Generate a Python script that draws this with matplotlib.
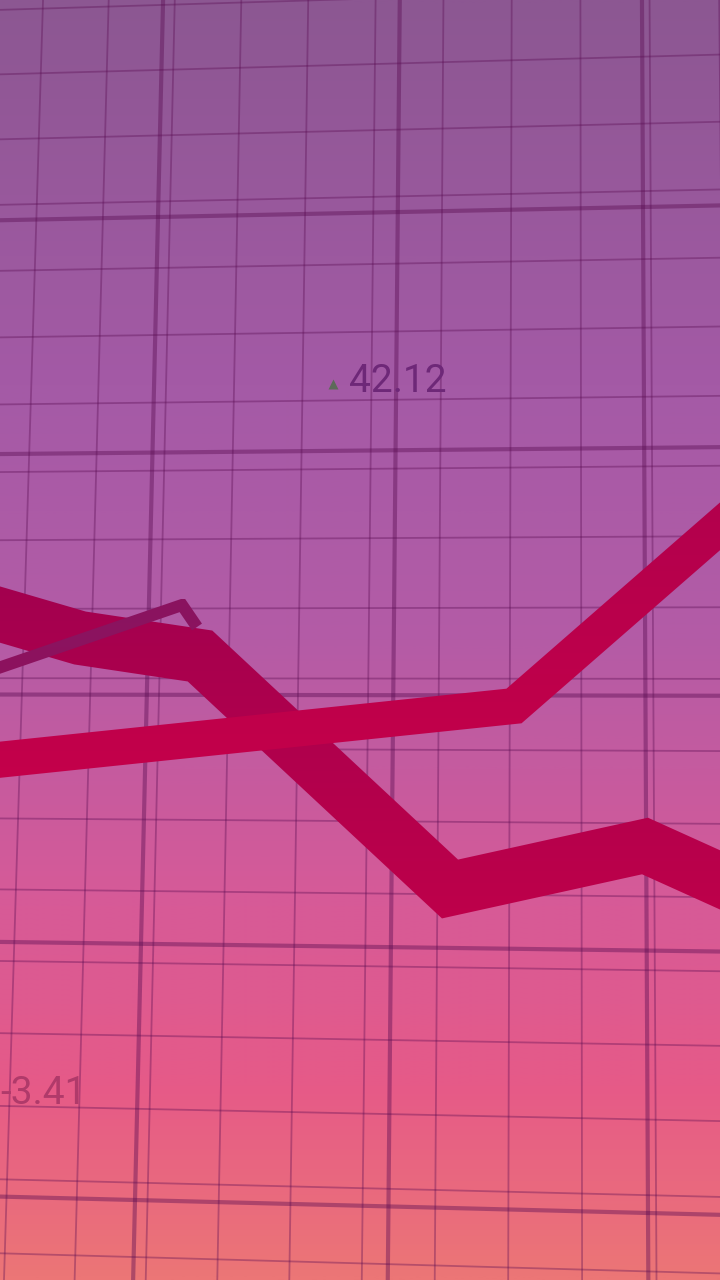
import matplotlib.pyplot as plt
import numpy as np
from matplotlib.colors import LinearSegmentedColormap
from matplotlib.patches import Polygon

# ribbon series (x in px across the frame, y in px down the frame)
thick_x = [-60, 80, 200, 450, 645, 780]
thick_y = [597, 638, 656, 889, 846, 907]

mid_x = [-60, 514, 780]
mid_y = [766, 706, 474]

thin_x = [-60, 182, 197]
thin_y = [688, 605, 627]

# floating value labels
labels = ['42.12', '-3.41']
label_pos = [(349, 382), (0, 1094)]

# background colour stops, top -> bottom
bg_stops = ['#8c5792', '#a45aa6', '#b45ca6', '#d65a98', '#e65a88', '#ec7676']
bg_pos = [0.0, 0.3, 0.5, 0.7, 0.85, 1.0]

fig = plt.figure(figsize=(7.2, 12.8), dpi=100)
ax = fig.add_axes([0, 0, 1, 1])
ax.axis('off')

# gradient background
cmap = LinearSegmentedColormap.from_list('bg', list(zip(bg_pos, bg_stops)))
grad = np.linspace(0, 1, 512).reshape(-1, 1)
ax.imshow(grad, cmap=cmap, aspect='auto', extent=(0, 720, 1280, 0), zorder=0)


# the grid sits on a slightly tilted plane: map grid units -> pixels
def solve_h(src, dst):
    A, b = [], []
    for (u, v), (x, y) in zip(src, dst):
        A.append([u, v, 1, 0, 0, 0, -u * x, -v * x])
        b.append(x)
        A.append([0, 0, 0, u, v, 1, -u * y, -v * y])
        b.append(y)
    h = np.linalg.solve(np.array(A, float), np.array(b, float))
    return np.append(h, 1).reshape(3, 3)


H = solve_h([(0, 0), (2, 0), (0, 4), (2, 4)],
            [(158, 217), (643, 207), (135, 1200), (648, 1213)])


def warp(u, v):
    p = H @ np.vstack([u, v, np.ones_like(u)])
    return p[0] / p[2], p[1] / p[2]


grid_col = '#5a0c52'
span = np.array([-2.0, 6.0])

# fine grid
for k in range(-10, 20):
    u = 0.05 + k * 0.283
    x, y = warp(np.full(2, u), span)
    ax.plot(x, y, color=grid_col, lw=1.3, alpha=0.36, zorder=1)
    v = -0.067 + k * 2 / 7
    x, y = warp(span - 1, np.full(2, v))
    ax.plot(x, y, color=grid_col, lw=1.3, alpha=0.36, zorder=1)

# coarse grid
for k in range(-2, 6):
    x, y = warp(np.full(2, float(k)), span)
    ax.plot(x, y, color=grid_col, lw=3.0, alpha=0.42, zorder=1)
    x, y = warp(span - 1, np.full(2, float(k)))
    ax.plot(x, y, color=grid_col, lw=3.0, alpha=0.42, zorder=1)


# thick polyline outline with mitred corners
def outline(xs, ys, w):
    p = np.column_stack([xs, ys]).astype(float)
    d = np.diff(p, axis=0)
    d /= np.linalg.norm(d, axis=1)[:, None]
    n = np.column_stack([-d[:, 1], d[:, 0]])
    left, right = [], []
    for i in range(len(p)):
        if i == 0:
            m = n[0]
        elif i == len(p) - 1:
            m = n[-1]
        else:
            m = (n[i - 1] + n[i]) / (1 + n[i - 1] @ n[i])
        left.append(p[i] + w * m)
        right.append(p[i] - w * m)
    return np.vstack([left, right[::-1]])


def ribbon(xs, ys, w, c_top, c_bot, z):
    poly = Polygon(outline(xs, ys, w), closed=True, fc='none', ec='none',
                   transform=ax.transData)
    ax.add_patch(poly)
    y0, y1 = min(ys) - w, max(ys) + w
    cm = LinearSegmentedColormap.from_list('r', [c_top, c_bot])
    im = ax.imshow(grad, cmap=cm, aspect='auto', extent=(-100, 820, y1, y0),
                   zorder=z)
    im.set_clip_path(poly)


ribbon(thick_x, thick_y, 27, '#a2004f', '#bf004a', 3)
ribbon(thin_x, thin_y, 6, '#8a1460', '#8e125e', 4)
ribbon(mid_x, mid_y, 18, '#b0004d', '#c4004a', 5)

# labels
ax.plot([333], [384], marker='^', color='#5d6a5a', ms=7, mec='none', zorder=6)
ax.text(label_pos[0][0], label_pos[0][1], labels[0], color='#6e2878',
        fontsize=28, family=['Roboto', 'DejaVu Sans'],
        ha='left', va='center', zorder=6)
ax.text(label_pos[1][0], label_pos[1][1], labels[1], color='#b03a6a',
        fontsize=28, family=['Roboto', 'DejaVu Sans'],
        ha='left', va='center', zorder=6)

ax.set_xlim(0, 720)
ax.set_ylim(1280, 0)
fig.savefig('out.png', dpi=100)
